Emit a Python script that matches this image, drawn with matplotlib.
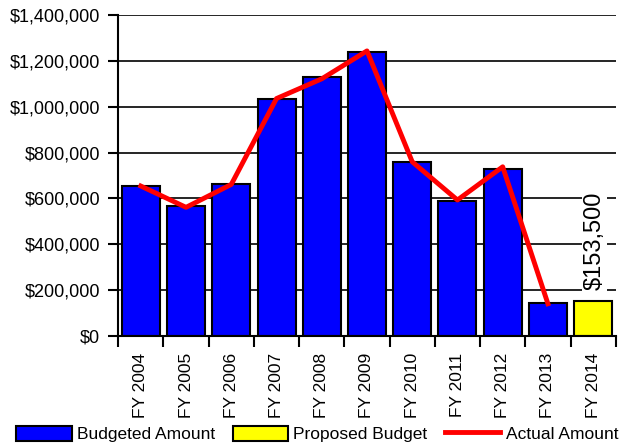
import numpy as np
import matplotlib.pyplot as plt
from matplotlib.patches import Patch
from matplotlib.lines import Line2D
from matplotlib.ticker import FuncFormatter

plt.rcParams['font.family'] = ['Liberation Sans Narrow', 'Liberation Sans', 'DejaVu Sans']

# Dados
anos = ['FY 2004', 'FY 2005', 'FY 2006', 'FY 2007', 'FY 2008', 'FY 2009',
        'FY 2010', 'FY 2011', 'FY 2012', 'FY 2013', 'FY 2014']
orcado = [652000, 567000, 661000, 1034000, 1128000, 1237000,
          757000, 589000, 730000, 145000, 153500]
real = [654000, 561000, 661000, 1036000, 1122000, 1244000,
        760000, 593000, 738000, 140000]
rotulo_proposto = '$153,500'

fig = plt.figure(figsize=(6.22, 4.46), dpi=100)
ax = fig.add_axes([0.19, 0.247, 0.80, 0.719])

x = np.arange(len(anos))
cores = ['#0000ff'] * (len(anos) - 1) + ['#ffff00']
ax.bar(x, orcado, width=0.84, color=cores, edgecolor='black', linewidth=1.5, zorder=2)
ax.plot(x[:len(real)], real, color='#ff0000', linewidth=3.5, zorder=3)

ax.annotate(rotulo_proposto, (x[-1], orcado[-1]), xytext=(1, 8), textcoords='offset points',
            rotation=90, ha='center', va='bottom', fontsize=17,
            bbox=dict(facecolor='white', edgecolor='none', pad=1), zorder=4)

ax.set_ylim(0, 1400000)
ax.set_xlim(-0.5, len(anos) - 0.5)
ax.set_yticks(np.arange(0, 1400001, 200000))
ax.yaxis.set_major_formatter(FuncFormatter(lambda v, p: f'${v:,.0f}'))
ax.grid(axis='y', color='black', linewidth=1.2, zorder=0)
ax.set_axisbelow(True)

ax.set_xticks(x)
ax.set_xticklabels(anos, rotation=90, fontsize=12.5)
ax.set_xticks(np.arange(-0.5, len(anos)), minor=True)
ax.tick_params(axis='x', which='major', length=0, pad=12)
ax.tick_params(axis='x', which='minor', length=8, width=1.5, direction='out')
ax.tick_params(axis='y', length=7, width=1.5, labelsize=13, pad=6)

for lado in ['top', 'right']:
    ax.spines[lado].set_visible(False)
ax.spines['left'].set_linewidth(1.5)
ax.spines['bottom'].set_linewidth(1.5)

handles = [Patch(facecolor='#0000ff', edgecolor='black', linewidth=1.5, label='Budgeted Amount'),
           Patch(facecolor='#ffff00', edgecolor='black', linewidth=1.5, label='Proposed Budget'),
           Line2D([0], [0], color='#ff0000', linewidth=3.5, label='Actual Amount')]
fig.legend(handles=handles, loc='lower center', bbox_to_anchor=(0.51, -0.015), ncol=3,
           frameon=False, fontsize=12.5, handlelength=3.2, handleheight=1.0,
           handletextpad=0.3, columnspacing=1.0, borderaxespad=0.2)

fig.savefig('out.png', dpi=100)
